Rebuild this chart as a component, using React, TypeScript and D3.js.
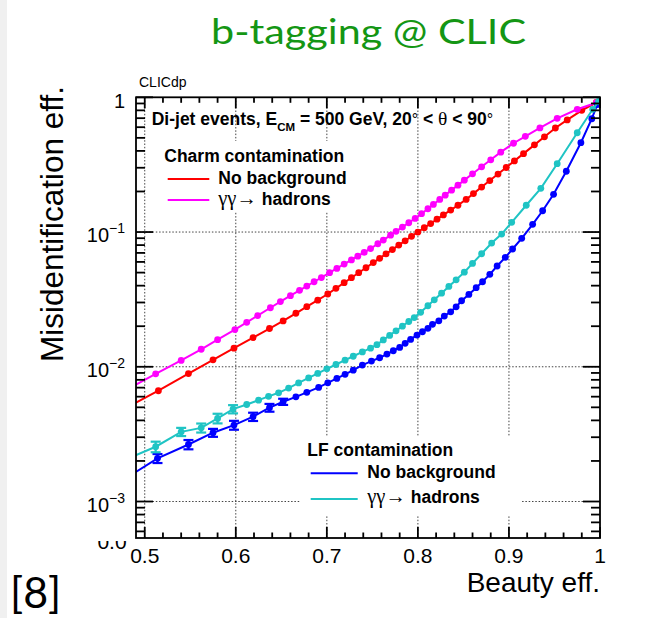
import React from 'react';
import * as d3 from 'd3';

// ---------- data ----------
// Charm contamination, no background
const charmNoBkgEff = [0.480, 0.515, 0.548, 0.575, 0.598, 0.619, 0.637, 0.652, 0.666, 0.678, 0.690, 0.701, 0.710, 0.719, 0.727, 0.735, 0.743, 0.751, 0.758, 0.765, 0.772, 0.779, 0.786, 0.793, 0.800, 0.807, 0.814, 0.821, 0.828, 0.836, 0.844, 0.853, 0.861, 0.870, 0.879, 0.888, 0.897, 0.906, 0.916, 0.928, 0.939, 0.951, 0.964, 0.980, 0.996];
const charmNoBkgMis = [0.00496, 0.00664, 0.00891, 0.01127, 0.01374, 0.01648, 0.01923, 0.02188, 0.02495, 0.02793, 0.03119, 0.03467, 0.03819, 0.04207, 0.04581, 0.04989, 0.05433, 0.05929, 0.06383, 0.06887, 0.07413, 0.07998, 0.0861, 0.0929, 0.1, 0.1076, 0.1156, 0.1245, 0.134, 0.1456, 0.1581, 0.1746, 0.1928, 0.2158, 0.241, 0.2692, 0.3013, 0.3373, 0.3819, 0.4436, 0.5093, 0.5916, 0.6792, 0.8, 0.915];

// Charm contamination, gamma gamma -> hadrons
const charmGGEff = [0.480, 0.512, 0.540, 0.562, 0.580, 0.599, 0.612, 0.624, 0.638, 0.649, 0.660, 0.670, 0.678, 0.686, 0.694, 0.703, 0.711, 0.719, 0.727, 0.734, 0.741, 0.748, 0.756, 0.762, 0.770, 0.776, 0.783, 0.790, 0.797, 0.804, 0.811, 0.817, 0.824, 0.830, 0.837, 0.844, 0.851, 0.860, 0.870, 0.880, 0.891, 0.905, 0.918, 0.934, 0.953, 0.975, 0.996];
const charmGGMis = [0.00675, 0.00887, 0.01114, 0.01349, 0.01589, 0.01888, 0.02138, 0.02399, 0.02742, 0.03048, 0.03373, 0.0369, 0.03972, 0.04276, 0.04592, 0.04989, 0.0537, 0.05781, 0.06209, 0.06622, 0.07063, 0.07534, 0.08185, 0.0871, 0.09484, 0.1012, 0.1089, 0.1172, 0.1262, 0.1368, 0.1489, 0.1603, 0.1746, 0.1879, 0.2046, 0.2228, 0.2427, 0.2704, 0.3048, 0.3436, 0.3917, 0.456, 0.5129, 0.5929, 0.6982, 0.8147, 0.912];

// LF contamination, no background
const lfNoBkgEff = [0.480, 0.514, 0.548, 0.575, 0.598, 0.619, 0.637, 0.652, 0.666, 0.678, 0.691, 0.701, 0.711, 0.720, 0.729, 0.739, 0.749, 0.758, 0.766, 0.773, 0.780, 0.786, 0.792, 0.799, 0.805, 0.811, 0.816, 0.823, 0.829, 0.836, 0.842, 0.848, 0.856, 0.864, 0.871, 0.879, 0.887, 0.896, 0.904, 0.914, 0.926, 0.937, 0.949, 0.963, 0.979, 0.991, 0.997];
const lfNoBkgMis = [0.0015, 0.00209, 0.00265, 0.00324, 0.00369, 0.00426, 0.00497, 0.0055, 0.00598, 0.00646, 0.00703, 0.0076, 0.0082, 0.00879, 0.00944, 0.0103, 0.01102, 0.01167, 0.01242, 0.01315, 0.01393, 0.01493, 0.01596, 0.01718, 0.0182, 0.01928, 0.02065, 0.02193, 0.02377, 0.02559, 0.02786, 0.0309, 0.03443, 0.03864, 0.04276, 0.04853, 0.05598, 0.06486, 0.07482, 0.08974, 0.114, 0.1439, 0.1905, 0.2825, 0.4603, 0.6934, 0.881];
const lfNoBkgErr = [0, 0.00016, 0.00021, 0.00022, 0.00028, 0.0003, 0.00033, 0.00029];

// LF contamination, gamma gamma -> hadrons
const lfGGEff = [0.480, 0.512, 0.540, 0.562, 0.580, 0.597, 0.612, 0.625, 0.636, 0.647, 0.658, 0.669, 0.680, 0.690, 0.700, 0.710, 0.720, 0.729, 0.739, 0.748, 0.755, 0.762, 0.769, 0.776, 0.783, 0.790, 0.796, 0.803, 0.811, 0.818, 0.826, 0.834, 0.842, 0.851, 0.860, 0.870, 0.881, 0.892, 0.903, 0.919, 0.935, 0.953, 0.975, 0.992, 0.9985];
const lfGGMis = [0.00206, 0.00255, 0.00329, 0.00352, 0.00414, 0.00485, 0.00525, 0.00565, 0.00603, 0.00641, 0.00695, 0.00759, 0.00826, 0.00893, 0.00966, 0.0104, 0.01119, 0.01197, 0.01288, 0.01374, 0.01459, 0.01581, 0.0171, 0.01849, 0.02, 0.02168, 0.02317, 0.02535, 0.02838, 0.03141, 0.03516, 0.03945, 0.04416, 0.05035, 0.05848, 0.06902, 0.08279, 0.0966, 0.118, 0.158, 0.211, 0.3214, 0.5458, 0.8147, 0.933];
const lfGGErr = [0, 0.00023, 0.00023, 0.00027, 0.00034, 0.00034];

// axes
const xDomain = [0.4904, 1.0];
const yDomain = [5.36e-4, 1];
const xMajorTicks = [0.5, 0.6, 0.7, 0.8, 0.9, 1.0];
const xTickLabels = ['0.5', '0.6', '0.7', '0.8', '0.9', '1'];
const yMajorTicks = [1e-3, 1e-2, 1e-1, 1];
const yTickExponents = ['\u22123', '\u22122', '\u22121', ''];
const xGrid = [0.5, 0.6, 0.7, 0.8, 0.9];
const yGrid = [1e-3, 1e-2, 1e-1];

// ---------- layout ----------
const W = 662;
const H = 618;
const FL = 136, FR = 600, FT = 97.3, FB = 538;

const RED = '#ff0000';
const MAGENTA = '#ff00ff';
const BLUE = '#0000ff';
const CYAN = '#1fc4c4';

const SANS = '"Liberation Sans", Arial, Helvetica, sans-serif';
const SERIF = '"Liberation Serif", "DejaVu Serif", serif';

const xScale = d3.scaleLinear().domain(xDomain).range([FL, FR]);
const yScale = d3.scaleLog().domain(yDomain).range([FB, FT]);

const xMinor = d3.range(0.52, 0.995, 0.02).filter(v => !xMajorTicks.some(m => Math.abs(m - v) < 1e-6));
const yMinor: number[] = [];
[-4, -3, -2, -1].forEach(d => {
  for (let k = 2; k <= 9; k++) {
    const v = k * Math.pow(10, d);
    if (v > yDomain[0] && v < yDomain[1]) yMinor.push(v);
  }
});

type Series = { eff: number[]; mis: number[]; err: number[]; color: string };
const series: Series[] = [
  { eff: charmNoBkgEff, mis: charmNoBkgMis, err: [], color: RED },
  { eff: charmGGEff, mis: charmGGMis, err: [], color: MAGENTA },
  { eff: lfNoBkgEff, mis: lfNoBkgMis, err: lfNoBkgErr, color: BLUE },
  { eff: lfGGEff, mis: lfGGMis, err: lfGGErr, color: CYAN },
];

const line = d3
  .line<[number, number]>()
  .x(d => xScale(d[0]))
  .y(d => yScale(d[1]));

function Curve({ s }: { s: Series }) {
  const n = Math.min(s.eff.length, s.mis.length);
  const pts: [number, number][] = [];
  for (let i = 0; i < n; i++) pts.push([s.eff[i], s.mis[i]]);
  return (
    <g>
      <path d={line(pts) || ''} fill="none" stroke={s.color} strokeWidth={2} />
      {pts.map((p, i) => {
        const e = s.err[i] || 0;
        if (!e) return null;
        const cx = xScale(p[0]);
        const y1 = yScale(p[1] + e);
        const y2 = yScale(p[1] - e);
        return (
          <g key={'e' + i} stroke={s.color} strokeWidth={2.2}>
            <line x1={cx} x2={cx} y1={y1} y2={y2} />
            <line x1={cx - 5} x2={cx + 5} y1={y1} y2={y1} />
            <line x1={cx - 5} x2={cx + 5} y1={y2} y2={y2} />
          </g>
        );
      })}
      {pts.map((p, i) => (
        <circle key={'m' + i} cx={xScale(p[0])} cy={yScale(p[1])} r={3.4} fill={s.color} />
      ))}
    </g>
  );
}

export default function App() {
  const axisColor = '#000';
  return (
    <svg
      width={W}
      height={H}
      viewBox={`0 0 ${W} ${H}`}
      style={{ position: 'absolute', left: 0, top: 0, background: '#fff' }}
    >
      <defs>
        <clipPath id="frameClip">
          <rect x={FL} y={FT} width={FR - FL} height={FB - FT} />
        </clipPath>
        <clipPath id="cutLabel">
          <rect x={90} y={541} width={45} height={10} />
        </clipPath>
      </defs>
      <rect x={0} y={0} width={W} height={H} fill="#fff" />
      <rect x={0} y={0} width={7} height={H} fill="#f0f0f0" />

      {/* slide title */}
      <text
        x={368.5}
        y={44.3}
        textAnchor="middle"
        fontFamily='Lato, "Open Sans", sans-serif'
        fontSize={35}
        fill="#149614"
        textLength={315}
        lengthAdjust="spacingAndGlyphs"
      >
        b-tagging @ CLIC
      </text>

      {/* grid */}
      <g stroke="#444" strokeWidth={1} strokeDasharray="1.5 1.8">
        {xGrid.map(v => (
          <line key={'gx' + v} x1={xScale(v)} x2={xScale(v)} y1={FT} y2={FB} />
        ))}
        {yGrid.map(v => (
          <line key={'gy' + v} x1={FL} x2={FR} y1={yScale(v)} y2={yScale(v)} />
        ))}
      </g>

      {/* legend boxes */}
      <rect x={150} y={141} width={205} height={70} fill="#fff" />
      <rect x={300} y={437} width={222} height={78} fill="#fff" />

      {/* curves */}
      <g clipPath="url(#frameClip)">
        {series.map((s, i) => (
          <Curve key={i} s={s} />
        ))}
      </g>

      {/* frame and ticks */}
      <g stroke={axisColor} strokeWidth={1.8} fill="none">
        <rect x={FL} y={FT} width={FR - FL} height={FB - FT} />
        {xMajorTicks.map(v => (
          <g key={'xt' + v}>
            <line x1={xScale(v)} x2={xScale(v)} y1={FB} y2={FB - 11} />
            <line x1={xScale(v)} x2={xScale(v)} y1={FT} y2={FT + 11} />
          </g>
        ))}
        {xMinor.map(v => (
          <g key={'xm' + v}>
            <line x1={xScale(v)} x2={xScale(v)} y1={FB} y2={FB - 5.5} />
            <line x1={xScale(v)} x2={xScale(v)} y1={FT} y2={FT + 5.5} />
          </g>
        ))}
        {yMajorTicks.map(v => (
          <g key={'yt' + v}>
            <line x1={FL} x2={FL + 17} y1={yScale(v)} y2={yScale(v)} />
            <line x1={FR} x2={FR - 17} y1={yScale(v)} y2={yScale(v)} />
          </g>
        ))}
        {yMinor.map(v => (
          <g key={'ym' + v}>
            <line x1={FL} x2={FL + 9} y1={yScale(v)} y2={yScale(v)} />
            <line x1={FR} x2={FR - 9} y1={yScale(v)} y2={yScale(v)} />
          </g>
        ))}
      </g>

      {/* x tick labels */}
      <g fontFamily={SANS} fontSize={21} fill="#000">
        {xMajorTicks.map((v, i) => (
          <text key={'xl' + v} x={xScale(v)} y={563} textAnchor="middle">
            {xTickLabels[i]}
          </text>
        ))}
      </g>

      {/* y tick labels */}
      <g fontFamily={SANS} fontSize={20} fill="#000">
        {yMajorTicks.map((v, i) =>
          yTickExponents[i] === '' ? (
            <text key={'yl' + v} x={125} y={yScale(v) + 11} textAnchor="end">
              1
            </text>
          ) : (
            <text key={'yl' + v} x={125} y={yScale(v) + 10} textAnchor="end">
              10
              <tspan dy={-9} fontSize={14}>
                {yTickExponents[i]}
              </tspan>
            </text>
          )
        )}
        <text x={112} y={549} textAnchor="middle" fontSize={21} clipPath="url(#cutLabel)">
          0.0
        </text>
      </g>

      {/* axis titles */}
      <text x={600} y={592} textAnchor="end" fontFamily={SANS} fontSize={28} fill="#000">
        Beauty eff.
      </text>
      <text
        transform="translate(63,86) rotate(-90)"
        textAnchor="end"
        fontFamily={SANS}
        fontSize={31.5}
        fill="#000"
      >
        Misidentification eff.
      </text>

      <text x={139} y={87} fontFamily={SANS} fontSize={14} fill="#000">
        CLICdp
      </text>

      {/* header line */}
      <text x={151.7} y={125} fontFamily={SANS} fontWeight="bold" fontSize={17.5} fill="#000">
        <tspan>{'Di-jet events, E'}</tspan>
        <tspan fontSize={11.5} dy={6}>
          CM
        </tspan>
        <tspan dy={-6}>{' = 500 GeV, 20'}</tspan>
        <tspan fontWeight="normal" fontSize={16}>
          {'\u00b0'}
        </tspan>
        <tspan>{' < '}</tspan>
        <tspan fontFamily={SERIF} fontWeight="normal" fontSize={19.5}>
          {'\u03b8'}
        </tspan>
        <tspan>{' < 90'}</tspan>
        <tspan fontWeight="normal" fontSize={16}>
          {'\u00b0'}
        </tspan>
      </text>

      {/* charm legend */}
      <g fontFamily={SANS} fontWeight="bold" fontSize={17.5} fill="#000">
        <text x={164.3} y={161.7}>Charm contamination</text>
        <line x1={167.7} x2={209.3} y1={179} y2={179} stroke={RED} strokeWidth={2} />
        <text x={218.3} y={184.3}>No background</text>
        <line x1={167.7} x2={209.3} y1={200} y2={200} stroke={MAGENTA} strokeWidth={2} />
        <text x={218.3} y={205}>
          <tspan fontFamily={SERIF} fontWeight="normal" fontSize={20.5}>
            {'\u03b3\u03b3\u2192'}
          </tspan>
          <tspan>{' hadrons'}</tspan>
        </text>
      </g>

      {/* LF legend */}
      <g fontFamily={SANS} fontWeight="bold" fontSize={17.5} fill="#000">
        <text x={307.3} y={456}>LF contamination</text>
        <line x1={310.7} x2={357.7} y1={473.3} y2={473.3} stroke={BLUE} strokeWidth={2} />
        <text x={367.3} y={478.3}>No background</text>
        <line x1={310.7} x2={357.7} y1={499} y2={499} stroke={CYAN} strokeWidth={2} />
        <text x={367.3} y={503.3}>
          <tspan fontFamily={SERIF} fontWeight="normal" fontSize={20.5}>
            {'\u03b3\u03b3\u2192'}
          </tspan>
          <tspan>{' hadrons'}</tspan>
        </text>
      </g>

      {/* citation */}
      <text x={10} y={608} fontFamily='Lato, "Open Sans", sans-serif' fontSize={43} fill="#000">
        [8]
      </text>
    </svg>
  );
}
